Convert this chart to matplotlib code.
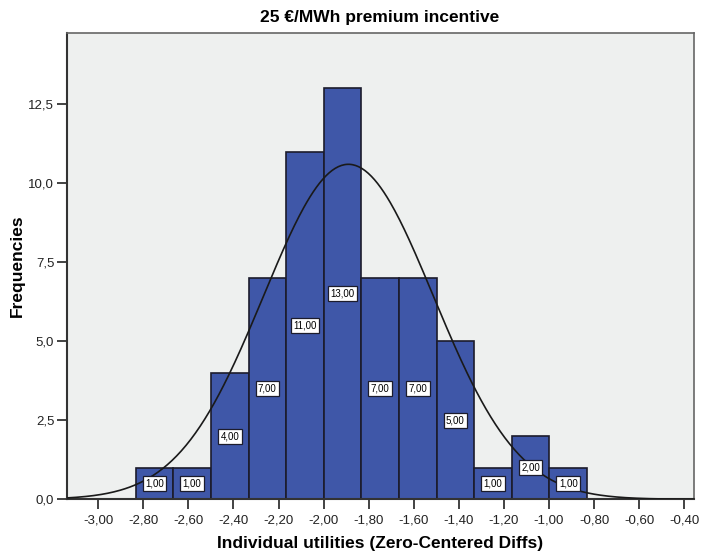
import numpy as np
import matplotlib.pyplot as plt
from matplotlib.ticker import FuncFormatter

plt.rcParams['font.family'] = ['Liberation Sans', 'DejaVu Sans']

# histogram of the individual utilities, 12 bins
bin_start = -2.834
bin_width = 0.1669
counts = [1, 1, 4, 7, 11, 13, 7, 7, 5, 1, 2, 1]

# fitted normal curve
mu = -1.89
sigma = 0.377
n_total = sum(counts)

x_ticks = [-3.0, -2.8, -2.6, -2.4, -2.2, -2.0, -1.8, -1.6, -1.4, -1.2, -1.0, -0.8, -0.6, -0.4]
y_ticks = [0, 2.5, 5.0, 7.5, 10.0, 12.5]

fig = plt.figure(figsize=(7.01, 5.51), dpi=100)
ax = fig.add_axes([66.7/701, 1-499.3/551, (693.5-66.7)/701, (499.3-32.7)/551])
ax.set_facecolor('#eef0ef')

lefts = bin_start + bin_width*np.arange(len(counts))
ax.bar(lefts, counts, width=bin_width, align='edge', color='#3f57a8',
       edgecolor='#1c1c2c', linewidth=1.2, zorder=2)

xs = np.linspace(-3.14, -0.36, 400)
ys = n_total*bin_width/(sigma*np.sqrt(2*np.pi))*np.exp(-0.5*((xs-mu)/sigma)**2)
ax.plot(xs, ys, color='#1a1a1a', lw=1.2, zorder=3)

# value boxes at half bar height
for left, c in zip(lefts, counts):
    ax.text(left + bin_width/2, c/2, f'{c:.2f}'.replace('.', ','), ha='center', va='center',
            fontsize=7, zorder=4,
            bbox=dict(boxstyle='square,pad=0.25', fc='white', ec='#1c1c2c', lw=0.9))

ax.set_xlim(-3.14, -0.359)
ax.set_ylim(0, 14.76)
ax.set_xticks(x_ticks)
ax.set_yticks(y_ticks)
ax.xaxis.set_major_formatter(FuncFormatter(lambda v, p: f'{v:.2f}'.replace('.', ',')))
ax.yaxis.set_major_formatter(FuncFormatter(lambda v, p: f'{v:.1f}'.replace('.', ',')))
ax.tick_params(direction='out', length=7, width=1.2, labelsize=9.5, colors='#222222', pad=2)
ax.tick_params(axis='x', pad=4)

for s in ['left', 'bottom']:
    ax.spines[s].set_linewidth(1.5)
    ax.spines[s].set_color('#333333')
for s in ['top', 'right']:
    ax.spines[s].set_linewidth(1.2)
    ax.spines[s].set_color('#666666')

ax.set_title('25 €/MWh premium incentive', fontsize=12.5, fontweight='bold', pad=8)
ax.set_xlabel('Individual utilities (Zero-Centered Diffs)', fontsize=12.5, fontweight='bold', va='center')
ax.set_ylabel('Frequencies', fontsize=12.5, fontweight='bold', va='center')
ax.xaxis.set_label_coords(0.5, -0.094)
ax.yaxis.set_label_coords(-0.079, 0.5)

fig.savefig('out.png', dpi=100)
